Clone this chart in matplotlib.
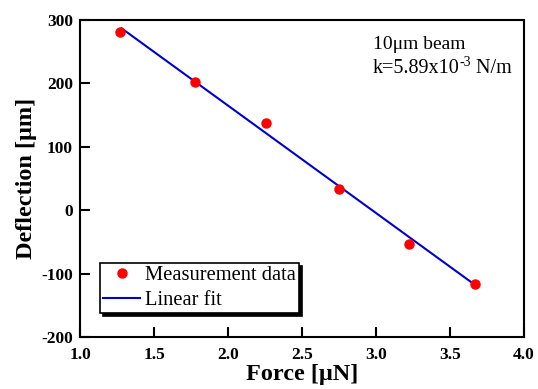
import matplotlib
matplotlib.use('Agg')
import matplotlib.pyplot as plt
from matplotlib.transforms import offset_copy
import numpy as np

plt.rcParams['font.family'] = ['Liberation Serif', 'DejaVu Serif']

# measured points
force = [1.27, 1.78, 2.26, 2.75, 3.22, 3.67]
deflection = [281, 202, 138, 34, -53, -117]

# linear fit end points
fit_force = [1.28, 3.67]
fit_deflection = [287, -118]

xticks = [1.0, 1.5, 2.0, 2.5, 3.0, 3.5, 4.0]
yticks = [-200, -100, 0, 100, 200, 300]

fig = plt.figure(figsize=(5.38, 3.89), dpi=100)
ax = fig.add_axes([0.1487, 0.1337, 0.8253, 0.8149])

ax.plot(force, deflection, 'o', color='#ff0000', markersize=6.5,
        label='Measurement data', zorder=3)
ax.plot(fit_force, fit_deflection, '-', color='#0000cc', lw=1.5,
        label='Linear fit', zorder=2)

ax.set_xlim(1.0, 4.0)
ax.set_ylim(-200, 300)
ax.set_xticks(xticks)
ax.set_yticks(yticks)
ax.set_xticklabels(['%.1f' % t for t in xticks], fontweight='bold', fontsize=12.5)
ax.set_yticklabels(['%d' % t for t in yticks], fontweight='bold', fontsize=12.5)
ax.tick_params(axis='x', direction='in', length=7, width=1.5, top=False, pad=7)
ax.tick_params(axis='y', direction='in', length=7, width=1.5, right=False, pad=5)
for s in ax.spines.values():
    s.set_linewidth(1.5)

ax.set_xlabel('Force [\u03bcN]', fontweight='bold', fontsize=17.5, labelpad=1)
ax.set_ylabel('Deflection [\u03bcm]', fontweight='bold', fontsize=17.5, labelpad=3)

# annotation, superscript placed by hand
ax.text(0.659, 0.9085, '10\u03bcm beam', transform=ax.transAxes, fontsize=14,
        va='baseline', ha='left')
renderer = fig.canvas.get_renderer()
t1 = ax.text(0.659, 0.833, 'k=5.89x10', transform=ax.transAxes, fontsize=14.5,
             va='baseline', ha='left')
w1 = t1.get_window_extent(renderer).width
t2 = ax.text(0.659, 0.833, '-3', fontsize=10, va='baseline', ha='left',
             transform=offset_copy(ax.transAxes, fig, x=w1 + 0.5, y=7, units='dots'))
w2 = t2.get_window_extent(renderer).width
ax.text(0.659, 0.833, ' N/m', fontsize=14.5, va='baseline', ha='left',
        transform=offset_copy(ax.transAxes, fig, x=w1 + w2 + 0.5, y=0, units='dots'))

leg = ax.legend(loc='lower left', bbox_to_anchor=(0.045, 0.0757), fontsize=14.8,
                frameon=True, fancybox=False,
                shadow={'color': 'black', 'alpha': 1}, handlelength=1.8,
                handletextpad=0.25, borderpad=0.15, labelspacing=0.25,
                borderaxespad=0)
leg.get_frame().set_edgecolor('black')
leg.get_frame().set_linewidth(1.2)

fig.savefig('out.png', dpi=100)
